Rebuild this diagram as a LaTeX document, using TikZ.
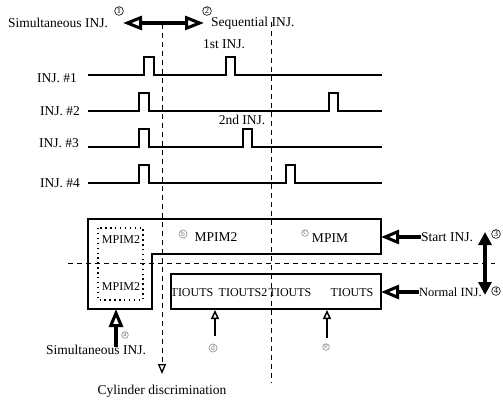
\documentclass[tikz,border=0pt]{standalone}
\usepackage{fontspec}
\setmainfont{Liberation Serif}
\usetikzlibrary{arrows.meta}
\begin{document}
\begin{tikzpicture}[x=1pt,y=-1pt,
  txt/.style={inner sep=0pt,font=\fontsize{13.5}{15}\selectfont},
  midtxt/.style={inner sep=0pt,font=\fontsize{12.5}{14}\selectfont},
  smalltxt/.style={inner sep=0pt,font=\fontsize{12}{14}\selectfont},
  circ/.style={circle,draw,line width=0.6pt,inner sep=0.6pt,font=\fontsize{8.5}{9}\selectfont},
  faintcirc/.style={circ,draw=black!45,text=black!55,font=\fontsize{7.5}{8}\selectfont},
  wave/.style={line width=1.1pt,line join=miter},
  boxline/.style={line width=1.2pt},
  dashline/.style={line width=1pt,dash pattern=on 5pt off 4pt},
  dotline/.style={line width=1.4pt,dash pattern=on 1.4pt off 3.5pt},
  bigopen/.style={line width=3.5pt,arrows={-{Triangle[open,length=18pt,width=14pt,line width=3pt]}}},
  bigboth/.style={line width=3.5pt,arrows={{Triangle[open,length=19pt,width=14pt,line width=3pt]}-{Triangle[open,length=19pt,width=14pt,line width=3pt]}}},
  vboth/.style={line width=3.2pt,arrows={{Triangle[length=13pt,width=13pt]}-{Triangle[length=13pt,width=13pt]}}},
  smallopen/.style={line width=1.5pt,arrows={-{Triangle[open,length=9pt,width=8pt,line width=1.5pt]}}}
]
\useasboundingbox (0,0) rectangle (503,401);

% ---------- top labels and double arrow ----------
\node[txt,anchor=west] (simT) at (8,23) {Simultaneous INJ.};
\node[circ] (c1) at (119,11) {1};
\coordinate (aL) at (123,23);
\coordinate (aR) at (204,23);
\draw[bigboth] (aL) -- (aR);
\node[circ] (c2) at (207,11) {2};
\node[txt,anchor=west] (seqT) at (211,23) {Sequential INJ.};

% ---------- vertical dashed lines ----------
\coordinate (d1top) at (162,24);
\coordinate (d1bot) at (162,374);
\coordinate (d2top) at (271,22);
\coordinate (d2bot) at (271,383);
\draw[dashline,-{Triangle[open,length=10pt,width=8pt,line width=1.3pt]}] (d1top) -- (d1bot);
\draw[dashline] (d2top) -- (d2bot);
\node[txt,anchor=north] (cylT) at (162,385) {Cylinder discrimination};

% ---------- waveforms ----------
\foreach \y/\a/\b/\n in {75/144/226/1, 111/139/329/2, 147/139/243/3, 183/139/286/4}{
  \draw[wave] (88,\y) -- (\a,\y) -- ++(0,-18) -- ++(10,0) -- ++(0,18)
     -- (\b,\y) -- ++(0,-18) -- ++(9,0) -- ++(0,18) -- (382,\y);
}
\node[txt,anchor=east] (lab1) at (77,78) {INJ. \#1};
\node[txt,anchor=east] (lab2) at (80,111) {INJ. \#2};
\node[txt,anchor=east] (lab3) at (79,143) {INJ. \#3};
\node[txt,anchor=east] (lab4) at (80,183) {INJ. \#4};
\node[txt] (firstT) at (224,44) {1st INJ.};
\node[txt] (secondT) at (242,120) {2nd INJ.};

% ---------- boxes ----------
\draw[boxline] (88,219) -- (381,219) -- (381,254) -- (152,254) -- (152,309) -- (88,309) -- cycle;
\draw[dotline] (98,228) rectangle (143,300);
\node[draw,boxline,minimum width=210pt,minimum height=35pt,inner sep=0pt] (lowbox) at (276,291.5) {};
\draw[dashline] (68,263) -- (495,263);

\node[smalltxt] (m1) at (121,240) {MPIM2};
\node[smalltxt] (m2) at (121,287) {MPIM2};
\node[faintcirc] (cb) at (183,234) {b};
\node[txt] (m3) at (216,237) {MPIM2};
\node[faintcirc] (cc) at (305,233) {c};
\node[txt] (m4) at (330,238) {MPIM};
\node[smalltxt] (t1) at (192,293) {TIOUTS};
\node[smalltxt] (t2) at (243,293) {TIOUTS2};
\node[smalltxt] (t3) at (290,293) {TIOUTS};
\node[smalltxt] (t4) at (352,293) {TIOUTS};

% ---------- right side arrows ----------
\coordinate (ubR) at (381,237);
\coordinate (lbR) at (381,292);
\node[txt,anchor=west] (startT) at (421,237) {Start INJ.};
\node[midtxt,anchor=west] (normT) at (419,292) {Normal INJ.};
\draw[bigopen] (startT.west) -- (ubR);
\draw[bigopen] (normT.west) -- (lbR);
\coordinate (vTop) at (485,232);
\coordinate (vBot) at (485,295);
\draw[vboth] (vTop) -- (vBot);
\node[circ] (c3) at (496,234) {3};
\node[circ] (c4) at (496,291) {4};

% ---------- bottom arrows ----------
\coordinate (sBot) at (116,347);
\coordinate (sTop) at (116,309);
\draw[bigopen] (sBot) -- (sTop);
\node[faintcirc] (ca) at (125,335) {a};
\node[txt] (simB) at (96,350) {Simultaneous INJ.};

\coordinate (dBot) at (215,336);
\coordinate (dTop) at (215,310);
\draw[smallopen] (dBot) -- (dTop);
\node[faintcirc] (cd) at (213,348) {d};
\coordinate (eBot) at (327,338);
\coordinate (eTop) at (327,310);
\draw[smallopen] (eBot) -- (eTop);
\node[faintcirc] (ce) at (326,347) {e};
\end{tikzpicture}
\end{document}
